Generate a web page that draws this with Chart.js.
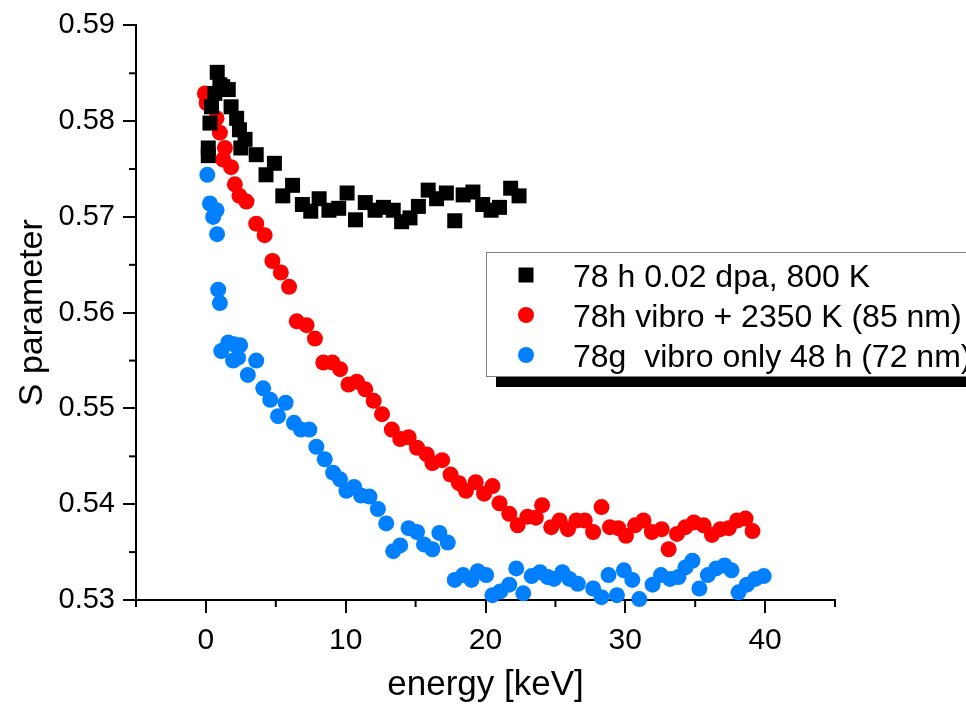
<!DOCTYPE html>
<html>
<head>
<meta charset="utf-8">
<script src="https://cdn.jsdelivr.net/npm/chart.js@4.4.1/dist/chart.umd.min.js"></script>
<style>
  body { margin: 0; background: #fff; }
  #wrap { width: 966px; height: 706px; }
</style>
</head>
<body>
<div id="wrap"><canvas id="chart" width="966" height="706"></canvas></div>
<script>
const FONT = "'Liberation Sans', Arial, sans-serif";

const seriesNames = ["78 h 0.02 dpa, 800 K", "78h vibro + 2350 K (85 nm)", "78g  vibro only 48 h (72 nm)"];

const blackE = [0.17, 0.17, 0.29, 0.40, 0.64, 0.81, 1.0, 1.2, 1.6, 1.8, 2.2, 2.4, 2.5, 2.8, 3.6, 4.3, 4.9, 5.5, 6.2, 6.9,
    7.5, 8.1, 8.8, 9.5, 10.1, 10.7, 11.4, 12.1, 12.7, 13.4, 14.0, 14.6, 15.2, 15.9, 16.5, 17.2, 17.8, 18.4, 19.1, 19.8,
    20.4, 21.0, 21.8, 22.4];
const blackS = [0.5764, 0.5772, 0.5798, 0.5815, 0.5829, 0.5851, 0.5838, 0.5836, 0.5833, 0.5815, 0.5803, 0.5791, 0.5772, 0.5781, 0.5765, 0.5744, 0.5756, 0.5722, 0.5733, 0.5713,
    0.5706, 0.5719, 0.5707, 0.5709, 0.5725, 0.5697, 0.5715, 0.5707, 0.5710, 0.5707, 0.5695, 0.5699, 0.5711, 0.5728, 0.5719, 0.5725, 0.5696, 0.5723, 0.5726, 0.5713,
    0.5707, 0.5710, 0.5730, 0.5722];

const redE = [-0.07, 0.05, 0.76, 1.0, 1.24, 1.36, 1.8, 2.07, 2.4, 2.9, 3.6, 4.2, 4.76, 5.36, 5.95, 6.5, 7.2, 7.8, 8.4, 9.05,
    9.6, 10.2, 10.8, 11.4, 12.0, 12.6, 13.3, 13.9, 14.5, 15.1, 15.8, 16.2, 16.9, 17.5, 18.1, 18.6, 19.3, 19.9, 20.5, 21.0,
    21.7, 22.3, 23.0, 23.6, 24.05, 24.7, 25.3, 25.9, 26.5, 27.1, 27.7, 28.3, 28.9, 29.5, 30.05, 30.7, 31.3, 31.9, 32.6, 33.1,
    33.7, 34.3, 34.9, 35.6, 36.2, 36.8, 37.4, 38.0, 38.6, 39.1];
const redS = [0.5829, 0.5819, 0.5803, 0.5788, 0.5760, 0.5772, 0.5752, 0.5734, 0.5722, 0.5716, 0.5693, 0.5681, 0.5654, 0.5642, 0.5627, 0.5591, 0.5587, 0.5573, 0.5548, 0.5548,
    0.5541, 0.5525, 0.5528, 0.5520, 0.5508, 0.5494, 0.5478, 0.5468, 0.5470, 0.5459, 0.5452, 0.5443, 0.5446, 0.5431, 0.5422, 0.5414, 0.5423, 0.5411, 0.5419, 0.5401,
    0.5390, 0.5378, 0.5387, 0.5386, 0.5399, 0.5376, 0.5383, 0.5374, 0.5383, 0.5383, 0.5371, 0.5397, 0.5376, 0.5375, 0.5367, 0.5378, 0.5383, 0.5371, 0.5374, 0.5353,
    0.5369, 0.5376, 0.5381, 0.5378, 0.5368, 0.5374, 0.5375, 0.5383, 0.5385, 0.5372];

const blueE = [0.1, 0.29, 0.52, 0.76, 0.8, 0.88, 1.0, 1.1, 1.6, 2.0, 2.45, 1.95, 2.3, 3.0, 3.6, 4.1, 4.6, 5.16, 5.7, 6.3,
    6.8, 7.4, 7.9, 8.5, 9.1, 9.6, 10.05, 10.6, 11.1, 11.7, 12.3, 12.9, 13.4, 13.9, 14.5, 15.1, 15.6, 16.2, 16.7, 17.3,
    17.8, 18.4, 19.0, 19.45, 20.05, 20.5, 21.05, 21.7, 22.2, 22.7, 23.3, 23.9, 24.45, 24.9, 25.5, 26.0, 26.6, 27.7, 28.3, 28.8,
    29.4, 29.9, 30.5, 31.0, 31.95, 32.55, 33.2, 33.8, 34.3, 34.8, 35.3, 35.9, 36.5, 37.1, 37.6, 38.1, 38.7, 39.3, 39.9];
const blueS = [0.5744, 0.5714, 0.5700, 0.5707, 0.5682, 0.5624, 0.5610, 0.5560, 0.5569, 0.5567, 0.5566, 0.5550, 0.5553, 0.5535, 0.5550, 0.5521, 0.5509, 0.5492, 0.5506, 0.5485,
    0.5478, 0.5478, 0.5460, 0.5447, 0.5433, 0.5426, 0.5414, 0.5418, 0.5409, 0.5408, 0.5395, 0.5380, 0.5351, 0.5357, 0.5375, 0.5371, 0.5358, 0.5353, 0.5370, 0.5360,
    0.5321, 0.5326, 0.5321, 0.5330, 0.5326, 0.5305, 0.5309, 0.5316, 0.5333, 0.5307, 0.5325, 0.5329, 0.5324, 0.5322, 0.5329, 0.5322, 0.5317, 0.5312, 0.5303, 0.5326,
    0.5305, 0.5331, 0.5321, 0.5301, 0.5316, 0.5326, 0.5322, 0.5324, 0.5334, 0.5341, 0.5312, 0.5326, 0.5333, 0.5336, 0.5331, 0.5308, 0.5316, 0.5322, 0.5325];

const xTicks = [0, 10, 20, 30, 40];
const xMinor = [-5, 5, 15, 25, 35, 45];
const yTicks = [0.53, 0.54, 0.55, 0.56, 0.57, 0.58, 0.59];
const yMinor = [0.535, 0.545, 0.555, 0.565, 0.575, 0.585];

const toPoints = (xs, ys) => xs.map((v, i) => ({ x: v, y: ys[i] }));

// minor ticks + boxed legend with the drop shadow, like the origin plot
const extras = {
    id: "extras",
    afterDraw(chart) {
        const ctx = chart.ctx;
        const sx = chart.scales.x, sy = chart.scales.y;
        ctx.save();
        ctx.strokeStyle = "#000";
        ctx.lineWidth = 2;
        xMinor.forEach(v => {
            const px = sx.getPixelForValue(v);
            ctx.beginPath(); ctx.moveTo(px, sy.bottom); ctx.lineTo(px, sy.bottom + 7); ctx.stroke();
        });
        yMinor.forEach(v => {
            const py = sy.getPixelForValue(v);
            ctx.beginPath(); ctx.moveTo(sx.left, py); ctx.lineTo(sx.left - 7, py); ctx.stroke();
        });

        ctx.fillStyle = "#000";
        ctx.fillRect(496, 377, 480, 10);
        ctx.fillStyle = "#fff";
        ctx.fillRect(486, 252, 500, 124);
        ctx.strokeStyle = "#7f7f7f";
        ctx.lineWidth = 1;
        ctx.strokeRect(486.5, 252.5, 500, 124);

        const rows = [275, 315, 355];
        ctx.font = "32px " + FONT;
        ctx.textBaseline = "alphabetic";
        ctx.textAlign = "left";
        chart.data.datasets.forEach((ds, i) => {
            const cy = rows[i];
            ctx.fillStyle = ds.backgroundColor;
            if (ds.pointStyle === "rect") {
                ctx.fillRect(526 - 7.5, cy - 7.5, 15, 15);
            } else {
                ctx.beginPath(); ctx.arc(526, cy, 8, 0, Math.PI * 2); ctx.fill();
            }
            ctx.fillStyle = "#000";
            ctx.fillText(ds.label, 573, cy + 11.5);
        });
        ctx.restore();
    }
};

const axisBase = {
    type: "linear",
    border: { display: true, color: "#000", width: 2 },
    grid: { drawOnChartArea: false, drawTicks: true, tickLength: 13, color: "#000", lineWidth: 2 }
};

new Chart(document.getElementById("chart").getContext("2d"), {
    type: "scatter",
    data: {
        datasets: [
            { label: seriesNames[0], data: toPoints(blackE, blackS), pointStyle: "rect", pointRadius: 10.6, backgroundColor: "#000000", borderWidth: 0, clip: false },
            { label: seriesNames[1], data: toPoints(redE, redS), pointStyle: "circle", pointRadius: 8, backgroundColor: "#ff0000", borderWidth: 0, clip: false },
            { label: seriesNames[2], data: toPoints(blueE, blueS), pointStyle: "circle", pointRadius: 8, backgroundColor: "#0080ff", borderWidth: 0, clip: false }
        ]
    },
    options: {
        responsive: false,
        animation: false,
        events: [],
        layout: { padding: { top: 20, right: 131, left: 0, bottom: 0 } },
        plugins: { legend: { display: false }, tooltip: { enabled: false } },
        scales: {
            x: {
                ...axisBase,
                min: -5, max: 45,
                afterFit: s => { s.height = 106; },
                afterBuildTicks: s => { s.ticks = xTicks.map(v => ({ value: v })); },
                ticks: { color: "#000", padding: 10, font: { family: FONT, size: 30 }, maxRotation: 0 },
                title: { display: true, text: "energy [keV]", color: "#000", font: { family: FONT, size: 35, lineHeight: 1.2 }, padding: { top: 0, bottom: 0 } }
            },
            y: {
                ...axisBase,
                min: 0.53, max: 0.59,
                afterFit: s => { s.width = 136; },
                afterBuildTicks: s => { s.ticks = yTicks.map(v => ({ value: v })); },
                ticks: { color: "#000", padding: 8, font: { family: FONT, size: 29 }, callback: v => v.toFixed(2) },
                title: { display: true, text: "S parameter", color: "#000", font: { family: FONT, size: 34, lineHeight: 1.2 }, padding: { top: 12, bottom: 0 } }
            }
        }
    },
    plugins: [extras]
});
</script>
</body>
</html>
